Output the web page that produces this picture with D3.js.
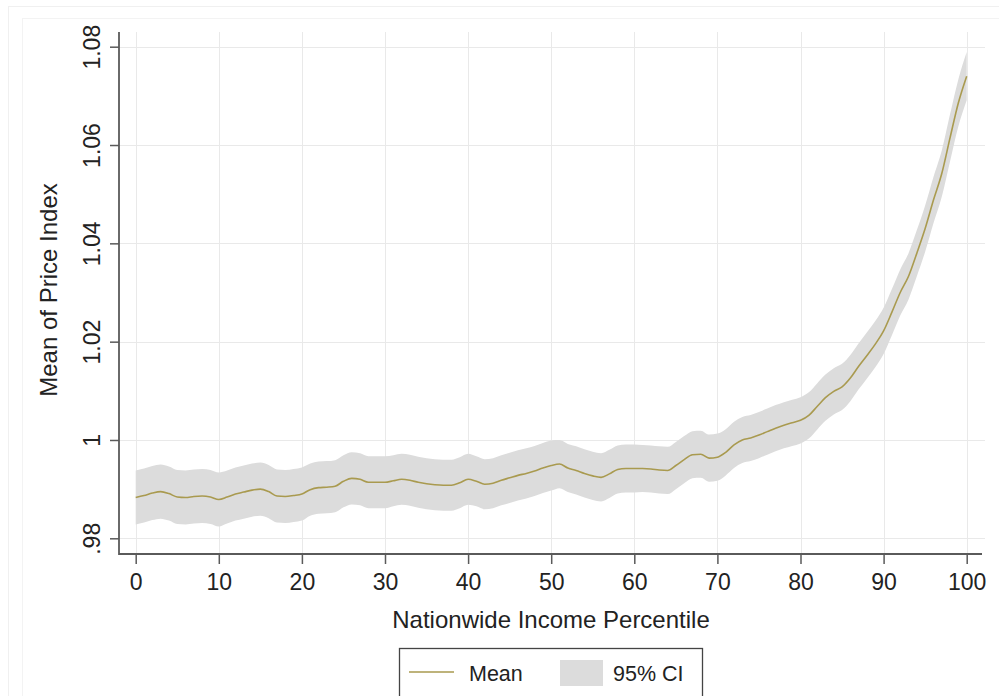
<!DOCTYPE html>
<html>
<head>
<meta charset="utf-8">
<script src="https://cdn.jsdelivr.net/npm/d3@7"></script>
<style>
  html, body { margin: 0; padding: 0; background: #ffffff; }
  svg { display: block; font-family: "Liberation Sans", Arial, sans-serif; }
</style>
</head>
<body>
<svg id="chart" width="999" height="696"></svg>
<script>
// ---- data ----
const percentile = d3.range(0, 101); // 0..100 income percentiles
const meanValues = [
  0.9883, 0.9887, 0.9892, 0.9895, 0.9891, 0.9884, 0.9883, 0.9885, 0.9886, 0.9884,
  0.9879, 0.9884, 0.9890, 0.9894, 0.9898, 0.9900, 0.9895, 0.9886, 0.9885, 0.9887,
  0.9890, 0.9899, 0.9903, 0.9904, 0.9906, 0.9916, 0.9922, 0.9920, 0.9914, 0.9914,
  0.9914, 0.9917, 0.9920, 0.9918, 0.9914, 0.9911, 0.9909, 0.9908, 0.9908, 0.9913,
  0.9920, 0.9916, 0.9910, 0.9912, 0.9918, 0.9923, 0.9928, 0.9932, 0.9937, 0.9943,
  0.9948, 0.9951, 0.9943, 0.9938, 0.9932, 0.9927, 0.9924, 0.9931, 0.9940, 0.9942,
  0.9942, 0.9942, 0.9941, 0.9939, 0.9938, 0.9948, 0.9960, 0.9970, 0.9971, 0.9963,
  0.9965, 0.9975, 0.9990, 1.0000, 1.0004, 1.0010, 1.0017, 1.0024, 1.0030, 1.0035,
  1.0040, 1.0050, 1.0068, 1.0086, 1.0099, 1.0108, 1.0126, 1.0150, 1.0172, 1.0195,
  1.0222, 1.0260, 1.0300, 1.0333, 1.0380, 1.0430, 1.0488, 1.0542, 1.0615, 1.0686,
  1.0740
];
const ciLower = [
  0.9828, 0.9832, 0.9837, 0.9840, 0.9836, 0.9829, 0.9828, 0.9830, 0.9831, 0.9829,
  0.9824, 0.9830, 0.9836, 0.9840, 0.9844, 0.9846, 0.9841, 0.9832, 0.9831, 0.9833,
  0.9836, 0.9846, 0.9850, 0.9851, 0.9853, 0.9863, 0.9869, 0.9867, 0.9861, 0.9861,
  0.9861, 0.9865, 0.9868, 0.9866, 0.9862, 0.9859, 0.9857, 0.9856, 0.9856, 0.9861,
  0.9868, 0.9865, 0.9859, 0.9861, 0.9867, 0.9872, 0.9877, 0.9881, 0.9886, 0.9892,
  0.9897, 0.9902, 0.9894, 0.9889, 0.9883, 0.9878, 0.9875, 0.9882, 0.9891, 0.9893,
  0.9893, 0.9894, 0.9893, 0.9891, 0.9890, 0.9900, 0.9912, 0.9922, 0.9923, 0.9915,
  0.9917, 0.9928, 0.9943, 0.9953, 0.9957, 0.9963, 0.9970, 0.9977, 0.9983, 0.9988,
  0.9993, 1.0003, 1.0021, 1.0039, 1.0052, 1.0061, 1.0079, 1.0103, 1.0125, 1.0148,
  1.0175, 1.0213, 1.0253, 1.0286, 1.0333, 1.0383, 1.0441, 1.0495, 1.0567, 1.0638,
  1.0691
];
const ciUpper = [
  0.9938, 0.9942, 0.9947, 0.9950, 0.9946, 0.9939, 0.9938, 0.9940, 0.9941, 0.9939,
  0.9934, 0.9938, 0.9944, 0.9948, 0.9952, 0.9954, 0.9949, 0.9940, 0.9939, 0.9941,
  0.9944, 0.9952, 0.9956, 0.9957, 0.9959, 0.9969, 0.9975, 0.9973, 0.9967, 0.9967,
  0.9967, 0.9969, 0.9972, 0.9970, 0.9966, 0.9963, 0.9961, 0.9960, 0.9960, 0.9965,
  0.9972, 0.9967, 0.9961, 0.9963, 0.9969, 0.9974, 0.9979, 0.9983, 0.9988, 0.9994,
  0.9999, 1.0000, 0.9992, 0.9987, 0.9981, 0.9976, 0.9973, 0.9980, 0.9989, 0.9991,
  0.9991, 0.9990, 0.9989, 0.9987, 0.9986, 0.9996, 1.0008, 1.0018, 1.0019, 1.0011,
  1.0013, 1.0022, 1.0037, 1.0047, 1.0051, 1.0057, 1.0064, 1.0071, 1.0077, 1.0082,
  1.0087, 1.0097, 1.0115, 1.0133, 1.0146, 1.0155, 1.0173, 1.0197, 1.0219, 1.0242,
  1.0269, 1.0307, 1.0347, 1.0380, 1.0427, 1.0477, 1.0535, 1.0589, 1.0663, 1.0734,
  1.0789
];
const xTicks = [0, 10, 20, 30, 40, 50, 60, 70, 80, 90, 100];
const yTicks = [0.98, 1.00, 1.02, 1.04, 1.06, 1.08];
const yTickLabels = [".98", "1", "1.02", "1.04", "1.06", "1.08"];
const xTitle = "Nationwide Income Percentile";
const yTitle = "Mean of Price Index";
const legendLabels = ["Mean", "95% CI"];

// ---- layout ----
const svg = d3.select("#chart");
const axisLeftX = 119, axisBottomY = 554, plotTop = 32, plotRight = 985;
const x = d3.scaleLinear().domain([0, 100]).range([135.7, 966.7]);
const y = d3.scaleLinear().domain([0.98, 1.08]).range([538.3, 46.7]);

const lineColor = "#a99a4f";
const bandColor = "#dcdcdc";
const gridColor = "#e9e9e9";
const axisColor = "#5a5a5a";
const textColor = "#222";

// faint outer frames
svg.append("rect").attr("x", 8.5).attr("y", 6.5).attr("width", 1100).attr("height", 800)
  .attr("fill", "none").attr("stroke", "#f0f0f0");
svg.append("rect").attr("x", 22.5).attr("y", 18.5).attr("width", 1100).attr("height", 800)
  .attr("fill", "none").attr("stroke", "#f3f3f3");

// gridlines
svg.append("g").selectAll("line").data(yTicks).join("line")
  .attr("x1", axisLeftX).attr("x2", plotRight)
  .attr("y1", d => Math.round(y(d)) + 0.5).attr("y2", d => Math.round(y(d)) + 0.5)
  .attr("stroke", gridColor).attr("stroke-width", 1);
svg.append("g").selectAll("line").data(xTicks).join("line")
  .attr("y1", plotTop).attr("y2", axisBottomY)
  .attr("x1", d => Math.round(x(d)) + 0.5).attr("x2", d => Math.round(x(d)) + 0.5)
  .attr("stroke", gridColor).attr("stroke-width", 1);

// CI band
const rows = percentile.map((p, i) => ({ p, m: meanValues[i], lo: ciLower[i], hi: ciUpper[i] }));
svg.append("path").datum(rows)
  .attr("d", d3.area().x(d => x(d.p)).y0(d => y(d.lo)).y1(d => y(d.hi)).curve(d3.curveMonotoneX))
  .attr("fill", bandColor);

// mean line
svg.append("path").datum(rows)
  .attr("d", d3.line().x(d => x(d.p)).y(d => y(d.m)).curve(d3.curveMonotoneX))
  .attr("fill", "none").attr("stroke", lineColor).attr("stroke-width", 1.6);

// x axis
const xAxis = svg.append("g").attr("transform", `translate(0,${axisBottomY})`)
  .call(d3.axisBottom(x).tickValues(xTicks).tickSize(10).tickSizeOuter(0).tickPadding(10));
xAxis.select(".domain").remove();
xAxis.selectAll(".tick line").attr("stroke", axisColor).attr("stroke-width", 1.5);
xAxis.selectAll(".tick text").attr("font-size", 23).attr("fill", textColor)
  .attr("font-family", "Liberation Sans, Arial, sans-serif");
svg.append("line").attr("x1", axisLeftX).attr("x2", 982).attr("y1", axisBottomY).attr("y2", axisBottomY)
  .attr("stroke", axisColor).attr("stroke-width", 1.8);

// y axis
svg.append("line").attr("x1", axisLeftX).attr("x2", axisLeftX).attr("y1", plotTop).attr("y2", axisBottomY + 1)
  .attr("stroke", axisColor).attr("stroke-width", 1.8);
const yAxis = svg.append("g").attr("transform", `translate(${axisLeftX},0)`)
  .call(d3.axisLeft(y).tickValues(yTicks).tickSize(9).tickSizeOuter(0).tickFormat((d, i) => yTickLabels[i]));
yAxis.select(".domain").remove();
yAxis.selectAll(".tick line").attr("stroke", axisColor).attr("stroke-width", 1.5);
yAxis.selectAll(".tick text")
  .attr("x", 0).attr("dy", 0)
  .attr("transform", "translate(-19,0) rotate(-90)")
  .attr("text-anchor", "middle")
  .attr("font-size", 23).attr("fill", textColor)
  .attr("font-family", "Liberation Sans, Arial, sans-serif");

// axis titles
svg.append("text").attr("x", 551).attr("y", 628).attr("text-anchor", "middle")
  .attr("font-size", 24).attr("fill", textColor).text(xTitle);
svg.append("text").attr("transform", "translate(57,290) rotate(-90)").attr("text-anchor", "middle")
  .attr("font-size", 24).attr("fill", textColor).text(yTitle);

// legend
const lg = svg.append("g");
lg.append("rect").attr("x", 399.5).attr("y", 648.5).attr("width", 303).attr("height", 70)
  .attr("fill", "#fff").attr("stroke", "#444").attr("stroke-width", 1.3);
lg.append("line").attr("x1", 409).attr("x2", 454).attr("y1", 672).attr("y2", 672)
  .attr("stroke", lineColor).attr("stroke-width", 1.6);
lg.append("text").attr("x", 469).attr("y", 681).attr("font-size", 21.5).attr("fill", textColor).text(legendLabels[0]);
lg.append("rect").attr("x", 560).attr("y", 660).attr("width", 43).attr("height", 26).attr("fill", bandColor);
lg.append("text").attr("x", 613).attr("y", 681).attr("font-size", 21.5).attr("fill", textColor).text(legendLabels[1]);
</script>
</body>
</html>
